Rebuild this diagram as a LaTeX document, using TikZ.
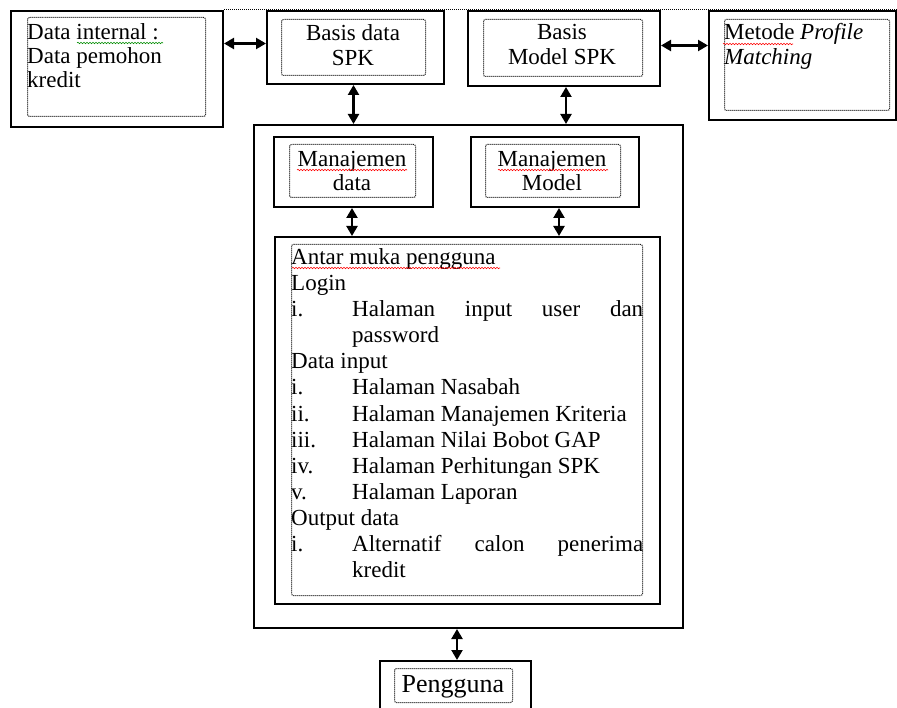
\documentclass[tikz,border=0pt]{standalone}
\usepackage{fontspec}
\setmainfont{Liberation Serif}
\usetikzlibrary{arrows.meta,decorations.pathmorphing,calc}
\begin{document}
\begin{tikzpicture}[x=1pt,y=-1pt,
  obox/.style={draw, line width=2pt, inner sep=0, anchor=north west},
  ibox/.style={draw, dash pattern=on 1pt off 1pt, line width=1pt, rounded corners=2pt, inner sep=0, anchor=north west},
  txt/.style={font=\fontsize{23}{26}\selectfont, inner sep=0, anchor=base west},
  ctxt/.style={font=\fontsize{23}{26}\selectfont, inner sep=0, anchor=base},
  arr/.style={{Triangle[length=10pt,width=11pt]}-{Triangle[length=10pt,width=11pt]}, line width=2.2pt},
  squig/.style={decorate, decoration={snake, amplitude=0.7pt, segment length=3pt}, line width=0.6pt}]
\useasboundingbox (0,0) rectangle (897,708);
\clip (0,0) rectangle (897,708);

% boxes
\node[obox, minimum width=212pt, minimum height=116pt] (din) at (10,10) {};
\node[ibox, minimum width=178pt, minimum height=99pt] (dini) at (27,17) {};
\node[obox, minimum width=177pt, minimum height=73pt] (bds) at (266,10) {};
\node[ibox, minimum width=144pt, minimum height=56pt] (bdsi) at (281,19) {};
\node[obox, minimum width=192pt, minimum height=75pt] (bms) at (467,10) {};
\node[ibox, minimum width=159pt, minimum height=57pt] (bmsi) at (483,19) {};
\node[obox, minimum width=187pt, minimum height=109pt] (met) at (708,10) {};
\node[ibox, minimum width=165pt, minimum height=91pt] (meti) at (724,19) {};
\node[obox, minimum width=429pt, minimum height=503pt] (big) at (253,124) {};
\node[obox, minimum width=159pt, minimum height=70pt] (md) at (273,136) {};
\node[ibox, minimum width=126pt, minimum height=53pt] (mdi) at (289,144) {};
\node[obox, minimum width=168pt, minimum height=70pt] (mm) at (470,136) {};
\node[ibox, minimum width=135pt, minimum height=53pt] (mmi) at (485,144) {};
\node[obox, minimum width=385pt, minimum height=367pt] (ami) at (274,236) {};
\node[ibox, minimum width=351pt, minimum height=351pt] (amii) at (291,244) {};
\node[obox, minimum width=151pt, minimum height=70pt] (pg) at (379,660) {};
\node[ibox, minimum width=118pt, minimum height=34pt] (pgi) at (394,668) {};

% top dotted line
\coordinate (tr) at (897,9);
\draw[dash pattern=on 1pt off 1pt, line width=1pt] (din.north east) -- (din.north east -| tr);

% texts
\node[txt] (t1) at (27,40) {Data internal :};
\node[txt] (t2) at (27,64) {Data pemohon};
\node[txt] (t3) at (27,88) {kredit};
\node[ctxt] (t4) at (353,41) {Basis data};
\node[ctxt] (t5) at (353,66) {SPK};
\node[ctxt] (t6) at (562,40) {Basis};
\node[ctxt] (t7) at (562,65) {Model SPK};
\node[txt] (t8) at (724,40) {Metode \textit{Profile}};
\node[txt] (t9) at (724,65) {\textit{Matching}};
\node[ctxt] (t10) at (352,167) {Manajemen};
\node[ctxt] (t11) at (352,191) {data};
\node[ctxt] (t12) at (552,167) {Manajemen};
\node[ctxt] (t13) at (552,191) {Model};

\node[txt] (l1) at (291,265) {Antar muka pengguna};
\node[txt] (l2) at (291,291) {Login};
\node[txt] (l3n) at (291,317) {i.};
\node[txt] (l3) at (352,317) {\hbox to 291pt{Halaman\hfill input\hfill user\hfill dan}};
\node[txt] (l4) at (352,343) {password};
\node[txt] (l5) at (291,369) {Data input};
\node[txt] (l6n) at (291,395) {i.};
\node[txt] (l6) at (352,395) {Halaman Nasabah};
\node[txt] (l7n) at (291,421) {ii.};
\node[txt] (l7) at (352,421) {Halaman Manajemen Kriteria};
\node[txt] (l8n) at (291,447) {iii.};
\node[txt] (l8) at (352,447) {Halaman Nilai Bobot GAP};
\node[txt] (l9n) at (291,473) {iv.};
\node[txt] (l9) at (352,473) {Halaman Perhitungan SPK};
\node[txt] (l10n) at (291,499) {v.};
\node[txt] (l10) at (352,499) {Halaman Laporan};
\node[txt] (l11) at (291,525) {Output data};
\node[txt] (l12n) at (291,551) {i.};
\node[txt] (l12) at (352,551) {\hbox to 291pt{Alternatif\hfill calon\hfill penerima}};
\node[txt] (l13) at (352,577) {kredit};

\node[ctxt, font=\fontsize{26}{30}\selectfont] (t14) at (453,692) {Pengguna};

% spell-check squiggles
\draw[squig, green!55!black] (77,43) -- (163,43);
\draw[squig, red] (723,44) -- (793,44);
\draw[squig, red] (297,170) -- (407,170);
\draw[squig, red] (498,170) -- (608,170);
\draw[squig, red] (292,268) -- (500,268);

% connectors
\coordinate (a1) at ([yshift=4pt]bds.west);
\draw[arr] (din.east |- a1) -- (a1);
\coordinate (a2) at ([yshift=3pt]bms.east);
\draw[arr] (a2) -- (met.west |- a2);
\coordinate (a3) at ([xshift=-2pt]bds.south);
\draw[arr] (a3) -- (a3 |- big.north);
\coordinate (a4) at ([xshift=2pt]bms.south);
\draw[arr] (a4) -- (a4 |- big.north);
\coordinate (a5) at ([xshift=-1.5pt]md.south);
\draw[arr] (a5) -- (a5 |- ami.north);
\coordinate (a6) at ([xshift=4pt]mm.south);
\draw[arr] (a6) -- (a6 |- ami.north);
\coordinate (a7) at ([xshift=1.5pt]pg.north);
\draw[arr] (a7 |- big.south) -- (a7);
\end{tikzpicture}
\end{document}
